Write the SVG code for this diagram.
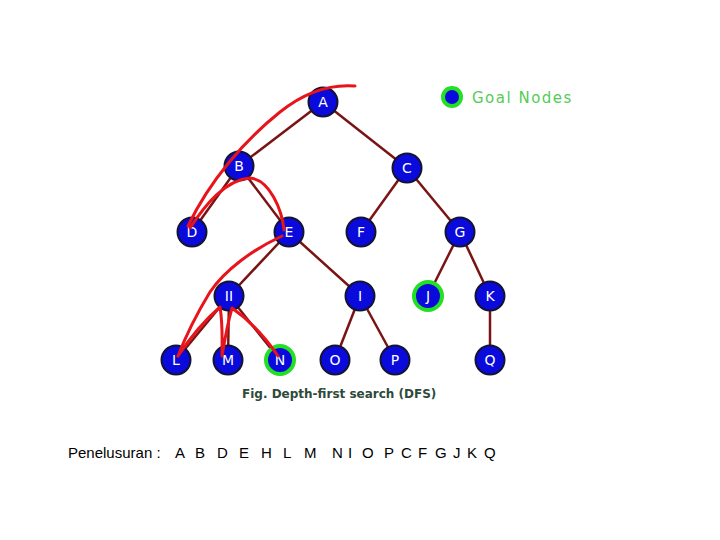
<svg xmlns="http://www.w3.org/2000/svg" width="720" height="540" viewBox="0 0 720 540">
<style>
.n circle{fill:#0a0adc;stroke:#141432;stroke-width:2}
.g circle{stroke:#22e022;stroke-width:4}
.n text{fill:#fff;font-family:"DejaVu Sans",sans-serif;font-size:14px;text-anchor:middle}
.e line{stroke:#7a1414;stroke-width:2.5}
.r path{fill:none;stroke:#e8141c;stroke-width:3;stroke-linecap:round;stroke-linejoin:round}
</style>
<rect width="720" height="540" fill="#fff"/>
<g id="connectors" class="e">
<line x1="323" y1="102" x2="239" y2="166"/>
<line x1="323" y1="102" x2="407" y2="168"/>
<line x1="239" y1="166" x2="192" y2="232"/>
<line x1="239" y1="166" x2="289" y2="232"/>
<line x1="407" y1="168" x2="361" y2="232"/>
<line x1="407" y1="168" x2="460" y2="232"/>
<line x1="289" y1="232" x2="229" y2="296"/>
<line x1="289" y1="232" x2="360" y2="296"/>
<line x1="460" y1="232" x2="428" y2="296"/>
<line x1="460" y1="232" x2="490" y2="296"/>
<line x1="229" y1="296" x2="176" y2="360"/>
<line x1="229" y1="296" x2="228" y2="360"/>
<line x1="229" y1="296" x2="280" y2="360"/>
<line x1="360" y1="296" x2="335" y2="360"/>
<line x1="360" y1="296" x2="395" y2="360"/>
<line x1="490" y1="296" x2="490" y2="360"/>
</g>
<g id="A" class="n"><circle cx="323" cy="102" r="14.5"/><text x="323" y="107">A</text></g>
<g id="B" class="n"><circle cx="239" cy="166" r="14.5"/><text x="239" y="171">B</text></g>
<g id="C" class="n"><circle cx="407" cy="168" r="14.5"/><text x="407" y="173">C</text></g>
<g id="D" class="n"><circle cx="192" cy="232" r="14.5"/><text x="192" y="237">D</text></g>
<g id="E" class="n"><circle cx="289" cy="232" r="14.5"/><text x="289" y="237">E</text></g>
<g id="F" class="n"><circle cx="361" cy="232" r="14.5"/><text x="361" y="237">F</text></g>
<g id="G" class="n"><circle cx="460" cy="232" r="14.5"/><text x="460" y="237">G</text></g>
<g id="H" class="n"><circle cx="229" cy="296" r="14.5"/><text x="229" y="301">II</text></g>
<g id="I" class="n"><circle cx="360" cy="296" r="14.5"/><text x="360" y="301">I</text></g>
<g id="J" class="n g"><circle cx="428" cy="296" r="14"/><text x="428" y="301">J</text></g>
<g id="K" class="n"><circle cx="490" cy="296" r="14.5"/><text x="490" y="301">K</text></g>
<g id="L" class="n"><circle cx="176" cy="360" r="14.5"/><text x="176" y="365">L</text></g>
<g id="M" class="n"><circle cx="228" cy="360" r="14.5"/><text x="228" y="365">M</text></g>
<g id="N" class="n g"><circle cx="280" cy="360" r="14"/><text x="280" y="365">N</text></g>
<g id="O" class="n"><circle cx="335" cy="360" r="14.5"/><text x="335" y="365">O</text></g>
<g id="P" class="n"><circle cx="395" cy="360" r="14.5"/><text x="395" y="365">P</text></g>
<g id="Q" class="n"><circle cx="490" cy="360" r="14.5"/><text x="490" y="365">Q</text></g>
<g id="legend">
<circle cx="452" cy="97" r="9" fill="#0a0adc" stroke="#22e022" stroke-width="4"/>
<text x="472" y="103" font-family="DejaVu Sans,sans-serif" font-size="15" fill="#55cc55" letter-spacing="1.5">Goal Nodes</text>
</g>
<g id="annotations" class="r">
<path d="M355 86 C330 84 305 92 280 112 C245 140 210 180 188 226"/>
<path d="M190 228 C205 205 225 180 250 178 C270 180 282 210 284 230"/>
<path d="M282 236 C252 250 225 270 210 292 C196 315 185 338 178 356"/>
<path d="M178 356 C190 338 205 320 220 307 C223 325 222 340 222 356 C225 338 228 322 232 308 C252 322 266 338 278 356"/>
</g>
<text x="242" y="398" font-family="DejaVu Sans,sans-serif" font-size="12" font-weight="bold" fill="#2d4a3a">Fig.  Depth-first search (DFS)</text>
<text y="458" font-family="Liberation Sans,Arial,sans-serif" font-size="15" fill="#000"><tspan x="68">Penelusuran :</tspan><tspan x="175">A</tspan><tspan x="195">B</tspan><tspan x="217">D</tspan><tspan x="239">E</tspan><tspan x="261">H</tspan><tspan x="283">L</tspan><tspan x="304">M</tspan><tspan x="332">N</tspan><tspan x="348">I</tspan><tspan x="362">O</tspan><tspan x="384">P</tspan><tspan x="401">C</tspan><tspan x="418">F</tspan><tspan x="435">G</tspan><tspan x="453">J</tspan><tspan x="467">K</tspan><tspan x="484">Q</tspan></text>
</svg>
